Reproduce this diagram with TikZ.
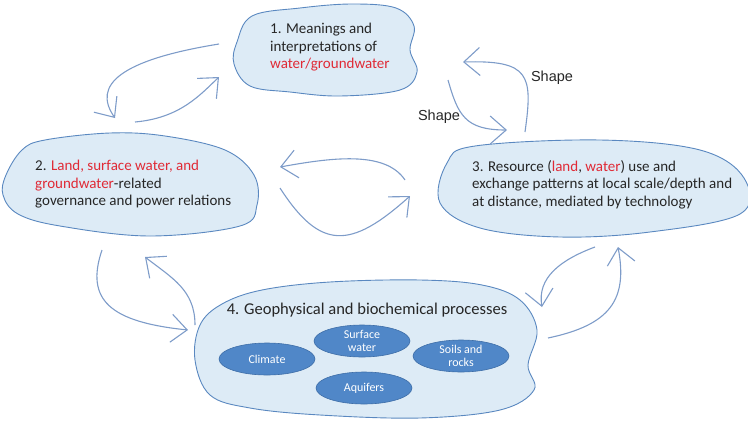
\documentclass[tikz,border=0pt]{standalone}
\usepackage{fontspec}
\setmainfont{Carlito}
\newfontfamily\labfont{Liberation Sans}
\usetikzlibrary{arrows.meta,shapes.geometric}
\definecolor{blobfill}{HTML}{DDEBF6}
\definecolor{blobline}{HTML}{5A88C0}
\definecolor{arrowcol}{HTML}{7E9CC9}
\definecolor{ellfill}{HTML}{5087C8}
\definecolor{ellline}{HTML}{3E6EA8}
\definecolor{redtext}{HTML}{E02A36}
\tikzset{
  blob/.style={fill=blobfill,draw=blobline,line width=0.9pt},
  flow/.style={draw=arrowcol,line width=1.1pt,-{Straight Barb[length=16pt,width=28pt,line width=1.1pt]}},
  blobtext/.style={font=\fontsize{15}{17.5}\selectfont,align=left,anchor=north west,inner sep=0pt,text=black!85},
  proc/.style={ellipse,fill=ellfill,draw=ellline,line width=0.6pt,minimum width=96pt,minimum height=32pt,inner sep=0pt,text=white,font=\fontsize{12}{13}\selectfont,align=center},
  lab/.style={font=\labfont\fontsize{14.5}{16}\selectfont,text=black!85,inner sep=0pt}
}
\newcommand{\rt}[1]{\textcolor{redtext}{#1}}
\begin{document}
\begin{tikzpicture}[x=1pt,y=-1pt]
\useasboundingbox (0,0) rectangle (748,421);
% blobs
\draw[blob] plot[smooth cycle,tension=0.6] coordinates {(237,42) (252,16) (300,8) (352,4) (396,8) (414,26) (410,50) (417,72) (400,90) (340,96) (290,92) (250,86) (234,64)};
\draw[blob] plot[smooth cycle,tension=0.6] coordinates {(6,175) (22,150) (45,140) (110,133) (165,136) (225,150) (254,175) (257,205) (240,226) (150,236) (60,226) (18,214) (3,195)};
\draw[blob] plot[smooth cycle,tension=0.6] coordinates {(447,163) (475,146) (600,140) (700,150) (744,178) (740,214) (650,232) (560,237) (480,228) (440,203)};
\draw[blob] plot[smooth cycle,tension=0.6] coordinates {(222,304) (262,290) (330,282) (420,280) (482,285) (520,300) (537,330) (528,365) (534,390) (500,410) (420,418) (320,415) (250,408) (210,395) (195,360) (200,325)};
% texts
\node[blobtext] (t1) at (270,23) {1. Meanings and\\interpretations of\\\rt{water/groundwater}};
\node[blobtext] (t2) at (35,160) {2. \rt{Land, surface water, and}\\\rt{groundwater}-related\\governance and power relations};
\node[blobtext] (t3) at (472,160) {3. Resource (\rt{land}, \rt{water}) use and\\exchange patterns at local scale/depth and\\at distance, mediated by technology};
\node[blobtext,anchor=center,font=\fontsize{16.5}{18}\selectfont] (t4) at (367,310) {4. Geophysical and biochemical processes};
% ellipses
\node[proc] (climate) at (267,359) {Climate};
\node[proc] (surf) at (362,341) {Surface\\water};
\node[proc] (soils) at (461,356) {Soils and\\rocks};
\node[proc] (aqu) at (364,388) {Aquifers};
% labels
\node[lab] (s1) at (552,78) {Shape};
\node[lab] (s2) at (439,117) {Shape};
% arrow end points
\coordinate (a1s) at (219,44); \coordinate (a1e) at (115,118);
\coordinate (a2s) at (135,122); \coordinate (a2e) at (219,77);
\coordinate (a3s) at (102,250); \coordinate (a3e) at (188,330);
\coordinate (a4s) at (195,325); \coordinate (a4e) at (145,257);
\coordinate (a5s) at (405,180); \coordinate (a5e) at (280,167);
\coordinate (a6s) at (280,188); \coordinate (a6e) at (410,196);
\coordinate (a7s) at (525,132); \coordinate (a7e) at (463,62);
\coordinate (a8s) at (448,80);  \coordinate (a8e) at (507,130);
\coordinate (a9s) at (595,247); \coordinate (a9e) at (542,307);
\coordinate (a10s) at (548,338); \coordinate (a10e) at (618,247);
% arrows
\draw[flow] (a1s) .. controls (120,60) and (92,85) .. (a1e);
\draw[flow] (a2s) .. controls (180,118) and (200,95) .. (a2e);
\draw[flow] (a3s) .. controls (85,300) and (110,322) .. (a3e);
\draw[flow] (a4s) .. controls (195,290) and (172,278) .. (a4e);
\draw[flow] (a5s) .. controls (385,150) and (330,158) .. (a5e);
\draw[flow] (a6s) .. controls (320,250) and (350,250) .. (a6e);
\draw[flow] (a7s) .. controls (533,75) and (530,60) .. (a7e);
\draw[flow] (a8s) .. controls (458,115) and (465,130) .. (a8e);
\draw[flow] (a9s) .. controls (560,260) and (537,278) .. (a9e);
\draw[flow] (a10s) .. controls (610,325) and (628,300) .. (a10e);
\end{tikzpicture}
\end{document}
